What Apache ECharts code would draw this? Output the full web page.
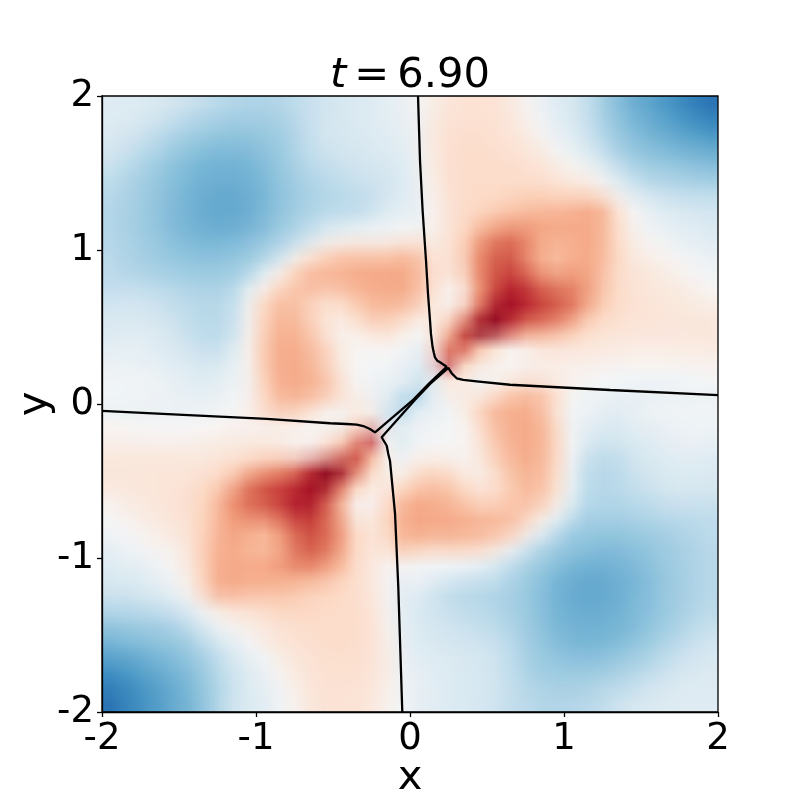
<!DOCTYPE html>
<html><head><meta charset="utf-8">
<style>
html,body{margin:0;padding:0;background:#fff}
#wrap{position:relative;width:800px;height:800px;overflow:hidden}
#heat{position:absolute;left:102px;top:96px;width:40px;height:40px;transform-origin:0 0;transform:scale(15.4)}
#main{position:absolute;left:0;top:0;width:800px;height:800px}
</style>
<script src="https://cdn.jsdelivr.net/npm/echarts@6/dist/echarts.min.js"></script>
</head><body><div id="wrap"><div id="heat"></div><div id="main"></div></div>
<script>
const titleText='{i|t}{e|=}{n|6.90}';
const xName='x', yName='y';
const axisMin=-2, axisMax=2, tickStep=1;
const palette=['#053061','#2166ac','#4393c3','#92c5de','#d1e5f0','#f7f7f7','#fddbc7','#f4a582','#d6604d','#b2182b','#67001f'];
// Field values (percent of colour range), top row first, left to right
const fieldRows=[
[-12,-12,-13,-14,-16,-19,-22,-26,-28,-30,-30,-29,-26,-23,-20,-17,-15,-13,-10,-8,-2,6,12,14,14,14,10,2,-6,-12,-16,-22,-32,-42,-48,-52,-57,-62,-68,-75],
[-13,-13,-15,-18,-21,-25,-28,-30,-33,-33,-33,-31,-28,-23,-19,-17,-15,-13,-10,-8,-3,8,13,15,15,15,12,6,-3,-10,-15,-22,-31,-40,-46,-50,-54,-58,-63,-68],
[-14,-16,-19,-23,-27,-31,-34,-37,-38,-38,-37,-35,-30,-24,-19,-17,-15,-13,-11,-9,-4,9,14,16,16,15,13,9,1,-7,-13,-20,-29,-38,-43,-47,-50,-53,-57,-60],
[-17,-20,-24,-28,-33,-37,-40,-42,-43,-42,-40,-37,-31,-25,-20,-18,-17,-15,-13,-11,-5,9,15,17,17,16,15,12,8,-1,-9,-16,-25,-33,-39,-43,-45,-48,-50,-52],
[-20,-24,-28,-33,-38,-42,-45,-47,-47,-46,-43,-39,-33,-27,-23,-21,-19,-18,-16,-14,-6,8,15,17,18,18,16,15,13,8,0,-8,-16,-26,-34,-37,-39,-41,-43,-45],
[-24,-28,-32,-37,-41,-45,-47,-48,-48,-47,-45,-40,-35,-30,-27,-24,-22,-20,-18,-15,-8,6,15,18,18,18,18,17,15,12,8,4,-3,-14,-24,-31,-33,-34,-36,-37],
[-27,-30,-34,-38,-42,-45,-48,-50,-50,-49,-46,-41,-36,-32,-29,-27,-25,-23,-19,-14,-9,4,14,18,19,20,21,22,22,20,17,15,8,-3,-14,-20,-23,-25,-26,-27],
[-28,-31,-35,-39,-43,-46,-49,-51,-51,-49,-46,-41,-36,-32,-30,-28,-28,-24,-18,-12,-10,3,13,17,20,22,24,28,30,30,32,36,36,14,0,-9,-14,-17,-19,-20],
[-28,-31,-35,-39,-43,-46,-48,-50,-50,-48,-45,-39,-34,-28,-22,-20,-17,-12,-8,-4,-8,3,12,18,25,33,36,38,38,38,38,38,36,20,4,-4,-9,-12,-14,-16],
[-28,-31,-34,-37,-41,-44,-46,-47,-46,-44,-40,-35,-29,-21,-10,-3,-1,-1,-2,2,5,4,12,20,38,48,55,50,40,36,36,38,36,20,8,1,-5,-8,-10,-12],
[-27,-30,-33,-36,-39,-41,-42,-42,-41,-38,-34,-26,-10,6,18,24,26,26,25,28,30,12,13,20,44,58,62,50,35,30,34,38,34,22,10,6,2,-2,-5,-8],
[-26,-29,-31,-33,-35,-37,-38,-38,-37,-35,-21,-4,16,28,32,34,36,37,37,38,34,16,14,20,46,60,66,56,40,32,38,40,32,20,13,10,7,3,-1,-4],
[-25,-25,-26,-27,-29,-31,-32,-32,-31,-19,-2,14,26,32,32,33,36,38,38,40,34,18,6,8,42,62,74,70,56,50,48,42,30,20,14,12,10,8,4,0],
[-21,-20,-20,-22,-25,-27,-29,-29,-27,-8,16,28,30,25,18,20,27,33,35,36,30,14,1,4,38,68,84,80,68,62,56,44,28,20,15,13,12,10,8,5],
[-17,-16,-16,-18,-21,-24,-27,-28,-25,-4,20,32,33,24,14,10,18,28,28,24,14,10,12,26,62,88,82,70,66,60,50,32,22,18,14,13,12,12,11,10],
[-14,-13,-13,-15,-18,-22,-27,-28,-24,-3,22,34,35,28,14,4,6,14,18,12,0,8,24,62,90,90,66,46,42,36,28,20,15,13,12,12,12,12,12,12],
[-11,-10,-10,-12,-15,-19,-23,-25,-19,-1,24,36,38,32,24,8,2,2,3,1,-8,4,40,66,34,18,4,6,13,14,13,12,11,10,9,9,9,9,9,9],
[-7,-6,-7,-9,-12,-15,-18,-18,-12,0,24,36,38,34,26,10,1,-1,-2,-3,-18,0,80,28,14,10,2,4,8,9,8,7,6,4,3,3,3,4,4,5],
[-4,-4,-4,-6,-8,-11,-14,-13,-8,-3,22,36,38,35,30,14,0,-2,-5,-7,-10,-14,12,10,-6,-2,2,8,6,3,3,2,0,0,-1,-1,-1,-1,0,1],
[-2,-2,-2,-3,-5,-7,-10,-8,-4,-2,16,32,37,35,32,20,6,-4,-9,-14,-35,-12,6,10,4,10,22,28,28,20,3,-3,-5,-7,-8,-9,-9,-8,-8,-7],
[-7,-8,-8,-9,-9,-8,-7,-5,-3,3,20,28,28,22,10,4,10,6,-12,-35,-14,-9,-4,6,20,32,35,37,32,16,-2,-4,-8,-10,-7,-5,-3,-2,-2,-2],
[1,0,-1,-1,-1,-1,0,0,2,3,3,6,8,2,-2,-6,10,12,-14,-10,-7,-5,-2,0,14,30,35,38,36,22,-3,-8,-13,-14,-11,-8,-6,-4,-4,-4],
[5,4,4,3,3,3,4,6,7,8,9,8,4,2,10,14,28,80,0,-18,-3,-2,-1,1,10,26,34,38,36,24,0,-12,-18,-18,-15,-12,-9,-7,-6,-7],
[9,9,9,9,9,9,10,11,12,13,14,13,6,4,18,34,66,40,4,-8,1,3,2,2,8,24,32,38,36,24,-1,-19,-25,-23,-19,-15,-12,-10,-10,-11],
[12,12,12,12,12,12,13,15,20,28,36,42,46,66,90,90,62,24,8,0,12,18,14,6,4,14,28,35,34,22,-3,-24,-28,-27,-22,-18,-15,-13,-13,-14],
[10,11,12,12,13,14,18,22,32,50,60,66,70,82,88,62,26,12,10,14,24,28,28,18,10,14,24,33,32,20,-4,-25,-28,-27,-24,-21,-18,-16,-16,-17],
[5,8,10,12,13,15,20,28,44,56,62,68,80,84,68,38,4,1,14,30,36,35,33,27,20,18,25,30,28,16,-8,-27,-29,-29,-27,-25,-22,-20,-20,-21],
[0,4,8,10,12,14,20,30,42,48,50,56,70,74,62,42,8,6,18,34,40,38,38,36,33,32,32,26,14,-2,-19,-31,-32,-32,-31,-29,-27,-26,-25,-25],
[-4,-1,3,7,10,13,20,32,40,38,32,40,56,66,60,46,20,14,16,34,38,37,37,36,34,32,28,16,-4,-21,-35,-37,-38,-38,-37,-35,-33,-31,-29,-26],
[-8,-5,-2,2,6,10,22,34,38,34,30,35,50,62,58,44,20,13,12,30,28,25,26,26,24,18,6,-10,-26,-34,-38,-41,-42,-42,-41,-39,-36,-33,-30,-27],
[-12,-10,-8,-5,1,8,20,36,38,36,36,40,50,55,48,38,20,12,4,5,2,-2,-1,-1,-3,-10,-21,-29,-35,-40,-44,-46,-47,-46,-44,-41,-37,-34,-31,-28],
[-16,-14,-12,-9,-4,4,20,36,38,38,38,38,38,36,33,25,18,12,3,-8,-4,-8,-12,-17,-20,-22,-28,-34,-39,-45,-48,-50,-50,-48,-46,-43,-39,-35,-31,-28],
[-20,-19,-17,-14,-9,0,14,36,36,32,30,30,28,24,22,20,17,13,3,-10,-12,-18,-24,-28,-28,-30,-32,-36,-41,-46,-49,-51,-51,-49,-46,-43,-39,-35,-31,-28],
[-27,-26,-25,-23,-20,-14,-3,8,15,17,20,22,22,21,20,19,18,14,4,-9,-14,-19,-23,-25,-27,-29,-32,-36,-41,-46,-49,-50,-50,-48,-45,-42,-38,-34,-30,-27],
[-37,-36,-34,-33,-31,-24,-14,-3,4,8,12,15,17,18,18,18,18,15,6,-8,-15,-18,-20,-22,-24,-27,-30,-35,-40,-45,-47,-48,-48,-47,-45,-41,-37,-32,-28,-24],
[-45,-43,-41,-39,-37,-34,-26,-16,-8,0,8,13,15,16,18,18,17,15,8,-6,-14,-16,-18,-19,-21,-23,-27,-33,-39,-43,-46,-47,-47,-45,-42,-38,-33,-28,-24,-20],
[-52,-50,-48,-45,-43,-39,-33,-25,-16,-9,-1,8,12,15,16,17,17,15,9,-5,-11,-13,-15,-17,-18,-20,-25,-31,-37,-40,-42,-43,-42,-40,-37,-33,-28,-24,-20,-17],
[-60,-57,-53,-50,-47,-43,-38,-29,-20,-13,-7,1,9,13,15,16,16,14,9,-4,-9,-11,-13,-15,-17,-19,-24,-30,-35,-37,-38,-38,-37,-34,-31,-27,-23,-19,-16,-14],
[-68,-63,-58,-54,-50,-46,-40,-31,-22,-15,-10,-3,6,12,15,15,15,13,8,-3,-8,-10,-13,-15,-17,-19,-23,-28,-31,-33,-33,-33,-30,-28,-25,-21,-18,-15,-13,-13],
[-75,-68,-62,-57,-52,-48,-42,-32,-22,-16,-12,-6,2,10,14,14,14,12,6,-2,-8,-10,-13,-15,-17,-20,-23,-26,-29,-30,-30,-28,-26,-22,-19,-16,-14,-13,-12,-12]
];
const curveTopLeft=[[0.052,2],[0.065,1.58],[0.082,1.255],[0.104,0.93],[0.117,0.714],[0.13,0.541],[0.136,0.455],[0.147,0.368],[0.154,0.336],[0.162,0.303],[0.177,0.281],[0.195,0.271],[0.238,0.242],[0.128,0.138],[0.024,0.03],[-0.227,-0.184],[-0.26,-0.162],[-0.303,-0.143],[-0.346,-0.134],[-0.411,-0.13],[-0.519,-0.125],[-0.93,-0.097],[-1.472,-0.07],[-2,-0.045]];
const curveRightBottom=[[2,0.058],[1.299,0.091],[0.649,0.125],[0.433,0.147],[0.346,0.156],[0.303,0.167],[0.292,0.173],[0.271,0.199],[0.249,0.234],[0.132,0.132],[0.03,0.024],[-0.184,-0.216],[-0.151,-0.271],[-0.141,-0.325],[-0.13,-0.368],[-0.097,-0.714],[-0.076,-1.19],[-0.05,-2]];

const cols=fieldRows[0].map((_,i)=>i), rows=fieldRows.map((_,j)=>j);
const cells=[];
fieldRows.forEach((r,j)=>r.forEach((v,i)=>cells.push([i,j,v])));

const heat=echarts.init(document.getElementById('heat'),null,{width:cols.length,height:rows.length,devicePixelRatio:1});
heat.setOption({animation:false,
 grid:{left:0,top:0,right:0,bottom:0,outerBoundsMode:'none'},
 xAxis:{type:'category',data:cols,show:false},
 yAxis:{type:'category',data:rows,inverse:true,show:false},
 visualMap:{show:false,min:-100,max:100,dimension:2,inRange:{color:palette}},
 series:[{type:'heatmap',data:cells,progressive:0,emphasis:{disabled:true}}]});

const font='"DejaVu Sans"';
const axisCommon={type:'value',min:axisMin,max:axisMax,interval:tickStep,splitLine:{show:false},
 axisLine:{show:true,onZero:false,lineStyle:{color:'#000',width:1.3}},
 axisTick:{show:true,length:5,lineStyle:{color:'#000',width:1.3}},
 nameLocation:'middle',nameMoveOverlap:false,nameTextStyle:{color:'#000',fontFamily:font,fontSize:41.7}};
const rich={i:{fontFamily:font,fontStyle:'italic',fontSize:41.7,color:'#000'},
 e:{fontFamily:font,fontSize:41.7,color:'#000',padding:[0,8,0,8]},
 n:{fontFamily:font,fontSize:41.7,color:'#000'}};
const main=echarts.init(document.getElementById('main'));
main.setOption({animation:false,backgroundColor:'transparent',
 title:{text:titleText,left:325,top:50,textStyle:{fontFamily:font,fontSize:41.7,fontWeight:'normal',color:'#000',rich:rich}},
 grid:{left:102,top:96,width:616,height:616,show:true,borderColor:'#000',borderWidth:1.3,backgroundColor:'transparent',outerBoundsMode:'none'},
 xAxis:Object.assign({},axisCommon,{name:xName,nameGap:45,axisLabel:{color:'#000',fontFamily:font,fontSize:37,margin:9}}),
 yAxis:Object.assign({},axisCommon,{name:yName,nameGap:46,axisLabel:{color:'#000',fontFamily:font,fontSize:37,margin:8,padding:[8,0,0,0]}}),
 series:[
  {type:'line',data:curveTopLeft,showSymbol:false,clip:true,lineStyle:{color:'#000',width:2.3},silent:true},
  {type:'line',data:curveRightBottom,showSymbol:false,clip:true,lineStyle:{color:'#000',width:2.3},silent:true}
 ]});
</script></body></html>
